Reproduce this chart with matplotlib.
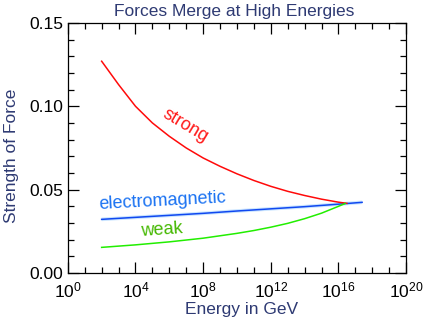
import matplotlib
matplotlib.use("Agg")
import matplotlib.pyplot as plt
from matplotlib.ticker import FixedLocator, MultipleLocator, NullFormatter

plt.rcParams["font.family"] = ["Liberation Sans", "DejaVu Sans"]
plt.rcParams["mathtext.fontset"] = "custom"
plt.rcParams["mathtext.rm"] = "Liberation Sans"
plt.rcParams["mathtext.it"] = "Liberation Sans"

# values (log10 of energy in GeV, strength)
strong_logE = [2, 3, 4, 5, 6, 7, 8, 9, 10, 11, 12, 13, 14, 15, 16, 16.5]
strong_val = [0.127, 0.113, 0.100, 0.090, 0.082, 0.075, 0.069, 0.064,
              0.0595, 0.0555, 0.052, 0.049, 0.0465, 0.0443, 0.0425, 0.0418]

em_logE = [2.0, 5.0, 8.0, 10.0, 12.0, 14.0, 16.0, 17.4]
em_val = [0.0322, 0.0340, 0.0358, 0.0372, 0.0385, 0.0398, 0.0413, 0.0424]

weak_logE = [2, 4, 6, 8, 10, 11, 12, 13, 14, 15, 16, 16.4]
weak_val = [0.0154, 0.0169, 0.0187, 0.0209, 0.0238, 0.0255, 0.0275,
            0.0298, 0.0326, 0.0359, 0.0400, 0.0417]

x_ticks = [0, 4, 8, 12, 16, 20]
x_ticklabels = [r"$\mathregular{10^{%d}}$" % t for t in x_ticks]
y_ticks = [0.0, 0.05, 0.10, 0.15]
y_ticklabels = ["0.00", "0.05", "0.10", "0.15"]

navy = "#2e3a73"

fig = plt.figure(figsize=(4.32, 3.22), dpi=100)
ax = fig.add_axes([0.157, 0.152, 0.783, 0.777])

# electromagnetic has a faint light-blue halo in the original
ax.plot(em_logE, em_val, color="#a8d4ff", lw=2.6, alpha=0.6, solid_capstyle="butt")
ax.plot(em_logE, em_val, color="#1048f0", lw=1.1)
ax.plot(strong_logE, strong_val, color="#ff0a0a", lw=1.1)
ax.plot(weak_logE, weak_val, color="#22ee00", lw=1.1)

ax.text(6.95, 0.0885, "strong", color="#ff1a1a", fontsize=13, rotation=-31,
        ha="center", va="center")
ax.text(5.62, 0.0428, "electromagnetic", color="#1a72f2", fontsize=13, rotation=3,
        ha="center", va="center")
ax.text(5.56, 0.0258, "weak", color="#44b800", fontsize=13, rotation=4,
        ha="center", va="center")

ax.set_xlim(0, 20)
ax.set_ylim(0, 0.15)
ax.xaxis.set_major_locator(FixedLocator(x_ticks))
ax.set_xticklabels(x_ticklabels)
ax.xaxis.set_minor_locator(MultipleLocator(1))
ax.set_yticks(y_ticks)
ax.set_yticklabels(y_ticklabels)
ax.yaxis.set_minor_locator(MultipleLocator(0.01))
ax.yaxis.set_minor_formatter(NullFormatter())

ax.tick_params(which="both", direction="in", top=True, right=True,
               labelsize=12.5, width=0.9, colors="black")
ax.tick_params(axis="x", pad=5)
ax.tick_params(axis="y", pad=3.5)
ax.tick_params(which="major", length=8)
ax.tick_params(which="minor", length=4)
for s in ax.spines.values():
    s.set_linewidth(0.9)

ax.set_xlabel("Energy in GeV", color=navy, fontsize=12.5)
ax.set_ylabel("Strength of Force", color=navy, fontsize=12.5)
ax.xaxis.set_label_coords(0.515, -0.117)
ax.yaxis.set_label_coords(-0.145, 0.468)
ax.set_title("Forces Merge at High Energies", color=navy, fontsize=12.5,
             x=0.491, pad=5)

fig.savefig("out.png", dpi=100)
